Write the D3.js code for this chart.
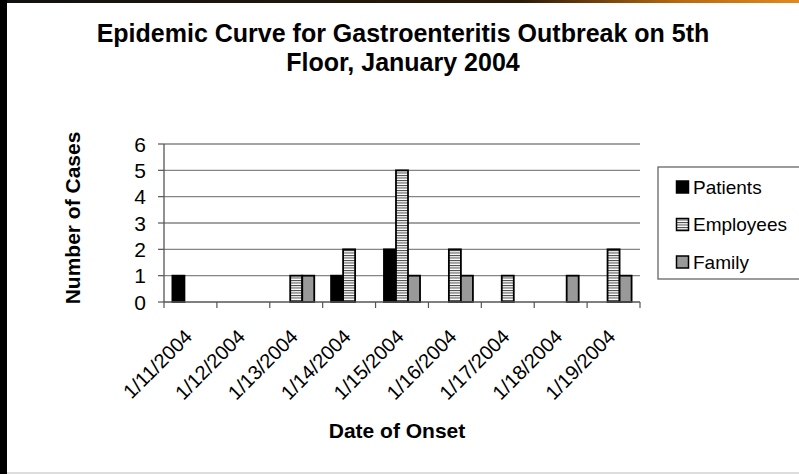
<!DOCTYPE html>
<html>
<head>
<meta charset="utf-8">
<script src="https://cdn.jsdelivr.net/npm/d3@7"></script>
<style>
  body { margin: 0; background: #fff; }
  svg { display: block; font-family: "Liberation Sans", Arial, sans-serif; }
</style>
</head>
<body>
<svg id="chart" width="799" height="474"></svg>
<script>
// chart values
var dates = ["1/11/2004", "1/12/2004", "1/13/2004", "1/14/2004", "1/15/2004",
             "1/16/2004", "1/17/2004", "1/18/2004", "1/19/2004"];
var seriesNames = ["Patients", "Employees", "Family"];
var patients  = [1, 0, 0, 1, 2, 0, 0, 0, 0];
var employees = [0, 0, 1, 2, 5, 2, 1, 0, 2];
var family    = [0, 0, 1, 0, 1, 1, 0, 1, 1];
var yTicks = [0, 1, 2, 3, 4, 5, 6];

function drawChart() {
  var values = { Patients: patients, Employees: employees, Family: family };
  var data = dates.map(function (d, i) {
    var row = { date: d };
    for (const s of seriesNames) row[s] = values[s][i];
    return row;
  });

  var dims = { left: 164, right: 640, top: 144, bottom: 302 };

  var svg = d3.select("#chart");

  // frame bits of the slide
  var defs = svg.append("defs");
  var grad = defs.append("linearGradient").attr("id", "topglow")
    .attr("x1", "0").attr("x2", "1").attr("y1", "0").attr("y2", "0");
  grad.append("stop").attr("offset", "0").attr("stop-color", "#111");
  grad.append("stop").attr("offset", "0.65").attr("stop-color", "#2a1a08");
  grad.append("stop").attr("offset", "0.85").attr("stop-color", "#b86a10");
  grad.append("stop").attr("offset", "1").attr("stop-color", "#e08a20");

  var stripes = defs.append("pattern").attr("id", "stripes")
    .attr("patternUnits", "userSpaceOnUse").attr("width", 8).attr("height", 2.5);
  stripes.append("rect").attr("width", 8).attr("height", 2.5).attr("fill", "#fff");
  stripes.append("rect").attr("width", 8).attr("height", 1).attr("fill", "#444");

  svg.append("rect").attr("x", 0).attr("y", 0).attr("width", 799).attr("height", 3)
    .attr("fill", "url(#topglow)");
  svg.append("rect").attr("x", 0).attr("y", 0).attr("width", 7).attr("height", 474)
    .attr("fill", "#000");
  svg.append("rect").attr("x", 7).attr("y", 472).attr("width", 792).attr("height", 2)
    .attr("fill", "#ddd");

  var color = d3.scaleOrdinal()
    .domain(seriesNames)
    .range(["#000000", "url(#stripes)", "#999999"]);

  var x = d3.scaleBand()
    .domain(dates)
    .range([dims.left, dims.right])
    .padding(0);

  var x1 = d3.scaleBand()
    .domain(seriesNames)
    .range([0, x.bandwidth()])
    .paddingInner(0)
    .paddingOuter(0.7);

  var y = d3.scaleLinear()
    .domain([0, 6])
    .range([dims.bottom, dims.top]);

  // gridlines
  svg.append("g")
    .selectAll("line")
    .data(yTicks.slice(1))
    .enter().append("line")
      .attr("x1", dims.left).attr("x2", dims.right)
      .attr("y1", d => y(d)).attr("y2", d => y(d))
      .attr("stroke", "#858585").attr("stroke-width", 1.3);

  // bars
  svg.append("g")
    .selectAll("g")
    .data(data)
    .enter().append("g")
      .attr("transform", d => "translate(" + x(d.date) + ",0)")
    .selectAll("rect")
    .data(d => seriesNames.map(s => ({ key: s, value: d[s] })).filter(v => v.value > 0))
    .enter().append("rect")
      .attr("x", d => x1(d.key))
      .attr("y", d => y(d.value))
      .attr("width", x1.bandwidth())
      .attr("height", d => y(0) - y(d.value))
      .attr("fill", d => color(d.key))
      .attr("stroke", "#000")
      .attr("stroke-width", 1.8);

  // x axis
  var xAxis = svg.append("g");
  xAxis.append("line")
    .attr("x1", dims.left).attr("x2", dims.right)
    .attr("y1", y(0)).attr("y2", y(0))
    .attr("stroke", "#555").attr("stroke-width", 1.3);
  xAxis.selectAll("line.tick")
    .data(dates.concat(["end"]))
    .enter().append("line").attr("class", "tick")
      .attr("x1", (d, i) => dims.left + i * x.step())
      .attr("x2", (d, i) => dims.left + i * x.step())
      .attr("y1", y(0)).attr("y2", y(0) + 6)
      .attr("stroke", "#555").attr("stroke-width", 1.2);
  xAxis.selectAll("text")
    .data(dates)
    .enter().append("text")
      .attr("text-anchor", "end")
      .attr("font-size", 20)
      .attr("fill", "#000")
      .attr("transform", d => "translate(" + (x(d) + x.bandwidth() / 2 + 3) + "," + (y(0) + 36) + ") rotate(-45)")
      .text(d => d);

  // y axis
  var yAxis = svg.append("g");
  yAxis.append("line")
    .attr("x1", dims.left).attr("x2", dims.left)
    .attr("y1", y(0)).attr("y2", y(6))
    .attr("stroke", "#555").attr("stroke-width", 1.3);
  yAxis.selectAll("line.tick")
    .data(yTicks)
    .enter().append("line").attr("class", "tick")
      .attr("x1", dims.left - 6).attr("x2", dims.left)
      .attr("y1", d => y(d)).attr("y2", d => y(d))
      .attr("stroke", "#555").attr("stroke-width", 1.2);
  yAxis.selectAll("text")
    .data(yTicks)
    .enter().append("text")
      .attr("x", 146)
      .attr("y", d => y(d))
      .attr("dy", "0.36em")
      .attr("text-anchor", "end")
      .attr("font-size", 21)
      .text(d => d);

  // titles
  var title = svg.append("text")
    .attr("text-anchor", "middle")
    .attr("font-size", 25)
    .attr("font-weight", "bold");
  title.append("tspan").attr("x", 403).attr("y", 42)
    .text("Epidemic Curve for Gastroenteritis Outbreak on 5th");
  title.append("tspan").attr("x", 403).attr("y", 71)
    .text("Floor, January 2004");

  svg.append("text")
    .attr("text-anchor", "middle")
    .attr("font-size", 21)
    .attr("font-weight", "bold")
    .attr("transform", "translate(80,218) rotate(-90)")
    .text("Number of Cases");

  svg.append("text")
    .attr("x", 397).attr("y", 438)
    .attr("text-anchor", "middle")
    .attr("font-size", 21)
    .attr("font-weight", "bold")
    .text("Date of Onset");

  // legend
  var legend = svg.append("g");
  legend.append("rect")
    .attr("x", 658).attr("y", 167)
    .attr("width", 150).attr("height", 112)
    .attr("fill", "#fff")
    .attr("stroke", "#666").attr("stroke-width", 1.3);
  var item = legend.selectAll("g")
    .data(seriesNames)
    .enter().append("g")
      .attr("transform", (d, i) => "translate(676," + (187 + i * 37.5) + ")");
  item.append("rect")
    .attr("x", 0.5).attr("y", -6)
    .attr("width", 12).attr("height", 12)
    .attr("fill", d => color(d))
    .attr("stroke", "#000").attr("stroke-width", 1.5);
  item.append("text")
    .attr("x", 17).attr("dy", "0.36em")
    .attr("font-size", 19)
    .text(d => d);
}

drawChart();
</script>
</body>
</html>
